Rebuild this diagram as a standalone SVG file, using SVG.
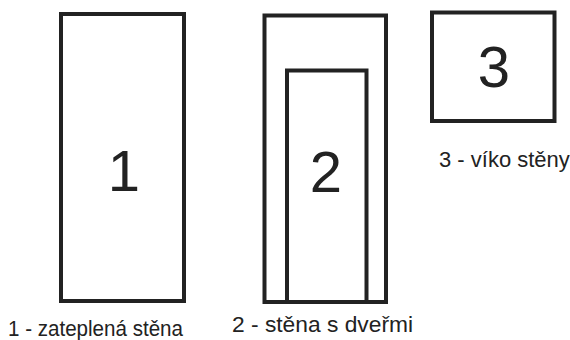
<svg xmlns="http://www.w3.org/2000/svg" width="570" height="340" viewBox="0 0 570 340">
<style>
.box{fill:#fff;stroke:#222;stroke-width:4}
.num{font-family:"Liberation Sans",Arial,sans-serif;font-size:58px;fill:#222;text-anchor:middle}
.lbl{font-family:"Liberation Sans",Arial,sans-serif;font-size:22px;fill:#222}
</style>
<rect width="570" height="340" fill="#fff"/>
<g id="node1">
<rect class="box" x="61" y="14" width="123" height="287"/>
<text class="num" x="124" y="191">1</text>
<text class="lbl" x="8" y="336" textLength="175" lengthAdjust="spacingAndGlyphs">1 - zateplená stěna</text>
</g>
<g id="node2">
<rect class="box" x="264.5" y="15.5" width="121.5" height="286.5"/>
<rect class="box" x="287" y="70.5" width="79.5" height="231.5"/>
<text class="num" x="326" y="192">2</text>
<text class="lbl" x="232" y="332" textLength="181" lengthAdjust="spacingAndGlyphs">2 - stěna s dveřmi</text>
</g>
<g id="node3">
<rect class="box" x="432" y="12.5" width="122.5" height="108.5"/>
<text class="num" x="494" y="87">3</text>
<text class="lbl" x="439" y="167">3 - víko stěny</text>
</g>
<g id="connectors"/>
</svg>
